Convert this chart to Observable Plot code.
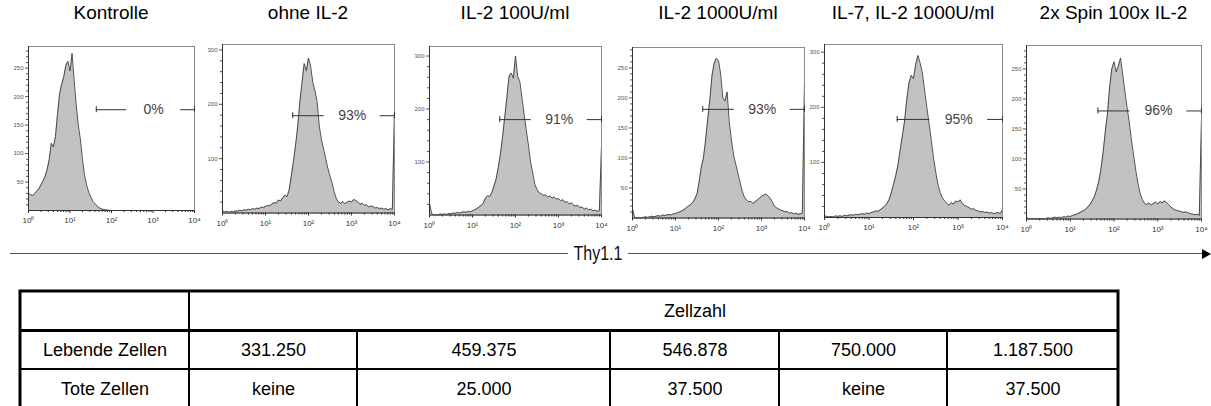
<!DOCTYPE html>
<html>
<head>
<meta charset="utf-8">
<script src="https://cdn.jsdelivr.net/npm/d3@7"></script>
<script src="https://cdn.jsdelivr.net/npm/@observablehq/plot@0.6"></script>
<style>
  body { margin: 0; background: #fff; overflow: hidden; font-family: "Liberation Sans", Arial, sans-serif; }
  #fig { position: relative; width: 1211px; height: 406px; overflow: hidden; background: #fff; }
  #fig > * { position: absolute; }
  .title { font-size: 19px; line-height: 22px; top: 2px; white-space: nowrap; transform: translateX(-50%); color: #000; }
  .axisline { height: 1px; background: #555; top: 253px; }
  .axislabel { font-size: 20px; line-height: 22px; top: 242px; transform: translateX(-50%) scaleX(0.8); white-space: nowrap; color: #111; }
  .arrowhead { width: 0; height: 0; border-top: 5px solid transparent; border-bottom: 5px solid transparent; border-left: 9px solid #000; top: 248.5px; }
</style>
</head>
<body>
<div id="fig"></div>
<script>
// Culture conditions, one histogram each
const conditions = ["Kontrolle", "ohne IL-2", "IL-2 100U/ml", "IL-2 1000U/ml", "IL-7, IL-2 1000U/ml", "2x Spin 100x IL-2"];
// Thy1.1-positive fraction inside the gate
const gatePercent = [0, 93, 91, 93, 95, 96];
// gate starts at this Thy1.1 intensity and runs to the top of the scale
const gateStart = 43;
// event count at which each gate bar is drawn
const gateLevel = [177, 179, 180, 181, 178, 180];
// upper end of each count axis
const yMax = [288, 310, 318, 284, 314, 289];
const yTicks = [
  [50, 100, 150, 200, 250],
  [100, 200, 300],
  [100, 200, 300],
  [50, 100, 150, 200, 250],
  [100, 200, 300],
  [50, 100, 150, 200, 250]
];
const yMinorStep = [10, 20, 20, 10, 20, 10];
const decadeTicks = [1, 10, 100, 1000, 10000];
const decadeLabels = ["10⁰", "10¹", "10²", "10³", "10⁴"];
const axisTitle = "Thy1.1";

// Event counts per channel, 20 channels per decade from 10^0 to 10^4 (81 channels)
const countsKontrolle = [
  30, 28, 26, 30, 34, 38, 45, 52, 60, 72,
  90, 118, 112, 130, 170, 205, 222, 235, 255, 262,
  245, 276, 228, 185, 150, 125, 90, 62, 45, 32,
  24, 16, 12, 8, 5, 3, 2, 1, 1, 0,
  0, 0, 0, 0, 0, 0, 0, 0, 0, 0,
  0, 0, 0, 0, 0, 0, 0, 0, 0, 0,
  0, 0, 0, 0, 0, 0, 0, 0, 0, 0,
  0, 0, 0, 0, 0, 0, 0, 0, 0, 0,
  0
];
const countsOhneIL2 = [
  4, 2, 3, 1, 3, 2, 4, 3, 5, 4,
  6, 5, 7, 6, 8, 7, 9, 8, 11, 10,
  12, 14, 13, 17, 19, 18, 24, 22, 28, 33,
  30, 42, 68, 95, 125, 160, 205, 240, 275, 262,
  285, 270, 240, 225, 205, 160, 135, 118, 100, 82,
  68, 55, 38, 26, 20, 18, 21, 17, 20, 22,
  20, 25, 23, 20, 16, 18, 14, 15, 11, 13,
  12, 9, 10, 8, 9, 7, 8, 6, 8, 7,
  190
];
const countsIL2_100 = [
  22, 3, 0, 1, 0, 2, 1, 2, 1, 3,
  2, 4, 3, 5, 4, 5, 6, 5, 7, 6,
  8, 10, 12, 15, 18, 22, 32, 36, 35, 42,
  55, 68, 90, 115, 148, 185, 222, 262, 268, 258,
  300, 262, 252, 222, 190, 160, 132, 100, 80, 58,
  48, 42, 40, 37, 38, 34, 36, 32, 34, 30,
  31, 27, 29, 24, 25, 21, 23, 19, 17, 18,
  14, 15, 11, 13, 10, 11, 8, 9, 7, 8,
  129
];
const countsIL2_1000 = [
  15, 1, 0, 1, 0, 1, 2, 1, 2, 3,
  2, 3, 4, 3, 5, 4, 5, 6, 5, 7,
  7, 9, 10, 12, 14, 17, 20, 22, 26, 32,
  40, 60, 85, 100, 130, 165, 198, 238, 258, 266,
  262, 240, 200, 195, 210, 160, 130, 105, 90, 75,
  60, 45, 35, 30, 27, 28, 24, 27, 30, 33,
  36, 38, 40, 37, 33, 27, 20, 17, 15, 13,
  12, 10, 11, 8, 9, 7, 8, 6, 7, 8,
  225
];
const countsIL7IL2 = [
  3, 2, 1, 2, 1, 3, 2, 3, 2, 4,
  3, 4, 5, 4, 6, 5, 6, 7, 6, 8,
  7, 9, 10, 12, 11, 14, 17, 20, 25, 32,
  45, 60, 76, 95, 122, 148, 175, 215, 245, 258,
  252, 278, 294, 280, 262, 230, 200, 170, 140, 108,
  82, 60, 45, 36, 30, 26, 22, 27, 24, 30,
  28, 32, 25, 22, 20, 18, 15, 16, 13, 12,
  10, 11, 9, 10, 8, 9, 7, 8, 9, 7,
  14
];
const countsSpin = [
  2, 1, 0, 1, 0, 1, 0, 1, 0, 1,
  2, 1, 2, 3, 2, 3, 2, 4, 3, 5,
  4, 6, 7, 8, 10, 12, 14, 16, 20, 24,
  30, 37, 48, 62, 82, 110, 145, 175, 220, 250,
  262, 245, 255, 268, 240, 212, 185, 160, 130, 105,
  80, 58, 42, 32, 26, 24, 27, 23, 26, 28,
  25, 29, 27, 30, 28, 24, 20, 17, 15, 14,
  13, 12, 11, 12, 10, 9, 8, 7, 8, 6,
  167
];
const channelsPerDecade = 20;

// Cell counts table
const tableHeader = "Zellzahl";
const rowLabels = ["Lebende Zellen", "Tote Zellen"];
const liveCells = ["331.250", "459.375", "546.878", "750.000", "1.187.500"];
const deadCells = ["keine", "25.000", "37.500", "keine", "37.500"];

const histograms = [countsKontrolle, countsOhneIL2, countsIL2_100, countsIL2_1000, countsIL7IL2, countsSpin];

// plot frame of each panel on the page (left, right, top, bottom in px)
const frames = [
  {L: 28, R: 194, T: 46, B: 210},
  {L: 222, R: 394, T: 44, B: 212.5},
  {L: 429, R: 601, T: 46, B: 214.5},
  {L: 632, R: 804, T: 47, B: 217.5},
  {L: 824, R: 1002, T: 44, B: 217},
  {L: 1026, R: 1201, T: 45, B: 218.5}
];

const fig = document.getElementById("fig");
const font = "'Liberation Sans', Arial, sans-serif";
const minorX = decadeTicks.slice(0, -1).flatMap(d => d3.range(2, 10).map(m => m * d));

histograms.forEach((counts, i) => {
  const f = frames[i];
  const mL = 24, mR = 6, mT = 4, mB = 22;
  const frameH = f.B - f.T;
  const unitsPerPx = yMax[i] / frameH;
  const data = counts.map((c, k) => ({x: Math.pow(10, k / channelsPerDecade), count: c}));
  const lo = Math.log10(gateStart);
  const mid = (lo + 4) / 2 + 0.2;   // label sits a little right of the gate's centre
  const gap = 0.65;                  // half-width of the break around the label, in decades
  const level = gateLevel[i];
  const minorY = d3.range(yMinorStep[i], yMax[i], yMinorStep[i]).filter(v => !yTicks[i].includes(v));
  const gateSegments = [
    {a: gateStart, b: Math.pow(10, mid - gap)},
    {a: Math.pow(10, mid + gap), b: 1e4}
  ];

  const plot = Plot.plot({
    width: f.R - f.L + mL + mR,
    height: frameH + mT + mB,
    marginLeft: mL, marginRight: mR, marginTop: mT, marginBottom: mB,
    style: {background: "transparent", fontFamily: font, overflow: "visible"},
    x: {type: "log", domain: [1, 1e4]},
    y: {domain: [0, yMax[i]]},
    marks: [
      Plot.areaY(data, {x: "x", y: "count", fill: "#c2c2c2"}),
      Plot.lineY(data, {x: "x", y: "count", stroke: "#3c3c3c", strokeWidth: 0.9}),
      Plot.frame({stroke: "#8a8a8a"}),
      Plot.ruleX([1], {stroke: "#333"}),
      Plot.ruleY([0], {stroke: "#333"}),
      Plot.axisY({ticks: yTicks[i], tickSize: 3, tickPadding: 2, fontSize: 6, label: null, color: "#555"}),
      Plot.axisY({ticks: minorY, tickSize: 2, tickFormat: () => "", label: null, color: "#555"}),
      Plot.axisX({ticks: decadeTicks, tickSize: 3, tickPadding: 4, fontSize: 8, label: null, color: "#333",
        tickFormat: d => decadeLabels[decadeTicks.indexOf(d)]}),
      Plot.axisX({ticks: minorX, tickSize: 2, tickFormat: () => "", label: null, color: "#333"}),
      Plot.ruleY(gateSegments, {x1: "a", x2: "b", y: () => level, stroke: "#333"}),
      Plot.ruleX([gateStart, 1e4], {x: d => d, y1: () => level - 3 * unitsPerPx, y2: () => level + 3 * unitsPerPx, stroke: "#333"}),
      Plot.text([gatePercent[i]], {x: () => Math.pow(10, mid), y: () => level, text: d => d + "%", fontSize: 14, fill: "#444"})
    ]
  });
  plot.style.left = (f.L - mL) + "px";
  plot.style.top = (f.T - mT) + "px";
  fig.appendChild(plot);

  const t = document.createElement("div");
  t.className = "title";
  t.textContent = conditions[i];
  t.style.left = ((f.L + f.R) / 2) + "px";
  fig.appendChild(t);
});

// shared Thy1.1 axis arrow under the histograms
const leftLine = document.createElement("div");
leftLine.className = "axisline";
leftLine.style.left = "10px"; leftLine.style.width = "558px";
fig.appendChild(leftLine);
const rightLine = document.createElement("div");
rightLine.className = "axisline";
rightLine.style.left = "628px"; rightLine.style.width = "576px";
fig.appendChild(rightLine);
const arrow = document.createElement("div");
arrow.className = "arrowhead";
arrow.style.left = "1202px";
fig.appendChild(arrow);
const axLabel = document.createElement("div");
axLabel.className = "axislabel";
axLabel.style.left = "598px";
axLabel.textContent = axisTitle;
fig.appendChild(axLabel);

// cell count table; column widths in px (the third column is wider than the rest)
const colWidths = [169, 168, 253, 169, 168, 171];
const colEdges = [0, ...d3.cumsum(colWidths)];
const tableWidth = colEdges[colEdges.length - 1];
const cells = [{c0: 0, c1: 1, r: 0, text: ""}, {c0: 1, c1: 6, r: 0, text: ""}];
[liveCells, deadCells].forEach((values, r) => {
  cells.push({c0: 0, c1: 1, r: r + 1, text: rowLabels[r]});
  values.forEach((v, c) => cells.push({c0: c + 1, c1: c + 2, r: r + 1, text: v}));
});
const rowH = 39;
const tableLeft = 20;
const table = Plot.plot({
  width: 1211,
  height: 3 * rowH + 4,
  marginLeft: tableLeft, marginRight: 1211 - tableLeft - tableWidth, marginTop: 2, marginBottom: 2,
  style: {background: "transparent", fontFamily: font, overflow: "visible"},
  x: {domain: [0, tableWidth], axis: null},
  y: {domain: [0, 3], reverse: true, axis: null},
  marks: [
    Plot.rect(cells, {x1: d => colEdges[d.c0], x2: d => colEdges[d.c1], y1: d => d.r, y2: d => d.r + 1,
      fill: "white", stroke: "#000", strokeWidth: 2}),
    Plot.rect([0], {x1: () => 0, x2: () => tableWidth, y1: () => 0, y2: () => 3, fill: "none", stroke: "#000", strokeWidth: 3}),
    Plot.ruleY([1], {x1: () => 0, x2: () => tableWidth, stroke: "#000", strokeWidth: 3}),
    Plot.text(cells, {x: d => (colEdges[d.c0] + colEdges[d.c1]) / 2, y: d => d.r + 0.5, text: "text", fontSize: 18, fill: "#000"}),
    // header sits over the middle one of the five condition columns
    Plot.text([tableHeader], {x: () => (colEdges[3] + colEdges[4]) / 2, y: () => 0.5, text: d => d, fontSize: 18, fill: "#000"})
  ]
});
table.style.left = "0px";
table.style.top = "289px";
fig.appendChild(table);
</script>
</body>
</html>
